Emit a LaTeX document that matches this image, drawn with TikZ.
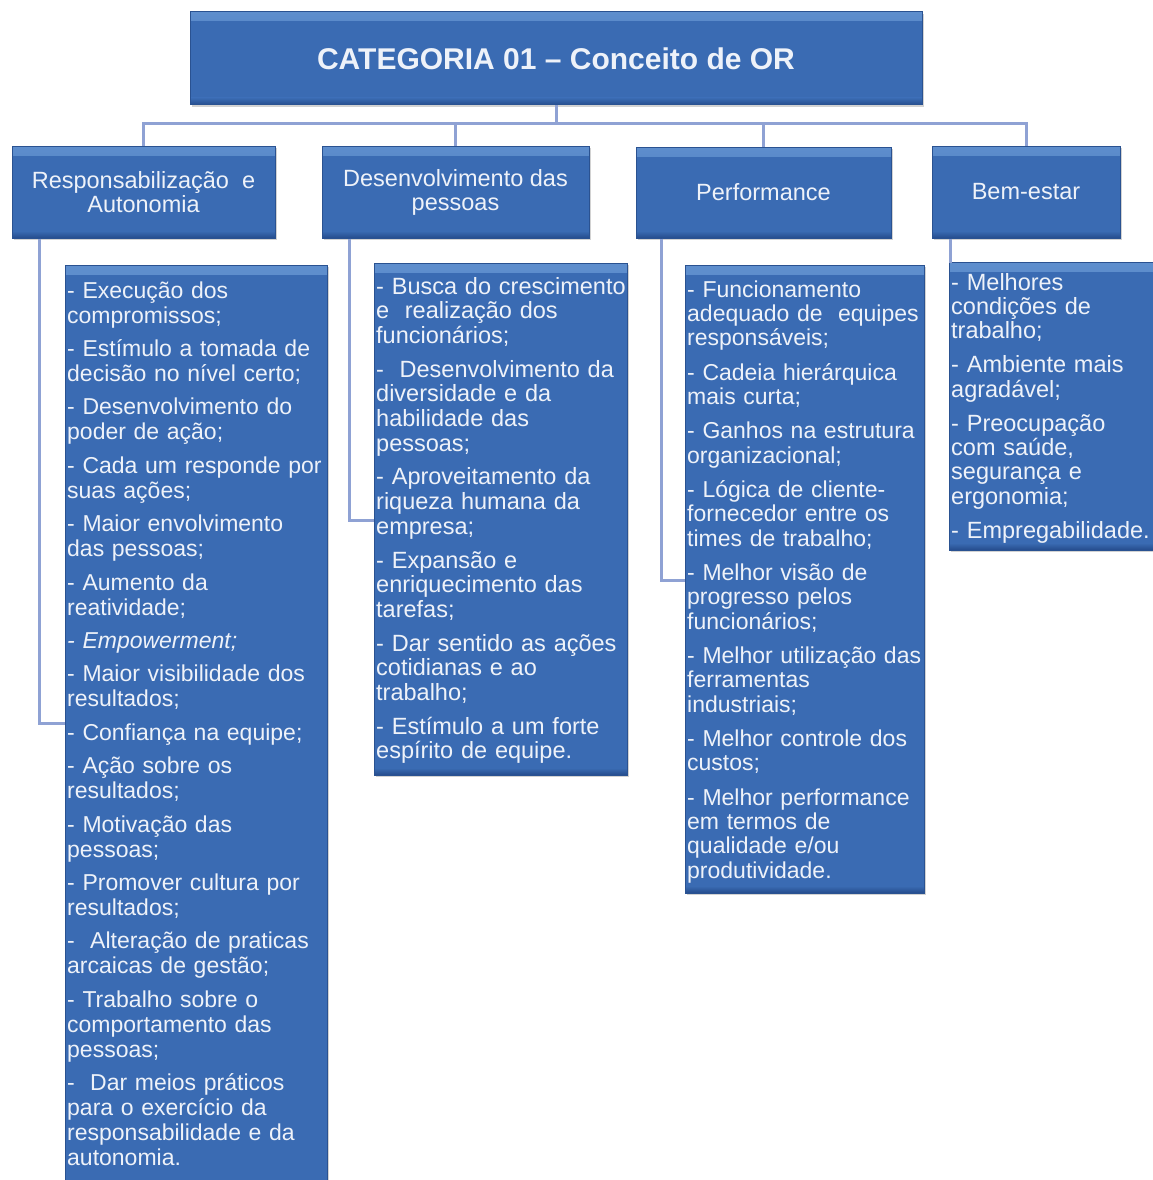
\documentclass[tikz,border=0pt]{standalone}
\usepackage{fontspec}
\setmainfont{Liberation Sans}
\usetikzlibrary{shadows}
\definecolor{boxtop}{HTML}{5E8ECD}
\definecolor{boxmid}{HTML}{3A6BB3}
\definecolor{boxbot}{HTML}{254C8C}
\definecolor{boxline}{HTML}{2A5291}
\definecolor{conncol}{HTML}{8FA2D4}
\definecolor{txtcol}{HTML}{EEF2F9}
\tikzset{
  bluebox/.style={rectangle, draw=boxline, line width=1pt, fill=boxmid,
    drop shadow={opacity=0.35, shadow xshift=2pt, shadow yshift=-2pt},
    path picture={
      \shade[top color=boxtop, bottom color=boxmid]
        (path picture bounding box.north west) rectangle
        ([yshift=-9pt]path picture bounding box.north east);
      \shade[top color=boxmid, bottom color=boxbot]
        ([yshift=7pt]path picture bounding box.south west) rectangle
        (path picture bounding box.south east);
    },
    inner sep=0pt, text=txtcol},
  header/.style={bluebox, font=\fontsize{30}{34}\selectfont\bfseries},
  catbox/.style={bluebox, align=center, font=\fontsize{23.5}{24}\selectfont},
  listbox/.style={bluebox},
  listtext/.style={anchor=base west, inner sep=0pt, text=txtcol, text width=320pt, align=left},
  conn/.style={draw=conncol, line width=3pt}
}
\begin{document}
\begin{tikzpicture}[x=1pt,y=-1pt]
\useasboundingbox (0,0) rectangle (1152,1180);
\fill[white] (0,0) rectangle (1152,1180);

% header
\node[header, minimum width=732pt, minimum height=93pt] (top) at (556,58.5) {CATEGORIA 01 -- Conceito de OR};

% categories
\node[catbox, minimum width=263pt, minimum height=92pt] (resp) at (143.5,192) {Responsabilização~ e\\Autonomia};
\node[catbox, minimum width=267pt, minimum height=92pt] (desen) at (455.5,192) {Desenvolvimento das\\pessoas};
\node[catbox, minimum width=255pt, minimum height=91pt] (perf) at (763.5,192.5) {Performance};
\node[catbox, minimum width=188pt, minimum height=92pt] (bem) at (1026,192) {Bem-estar};

% list boxes
\node[listbox, minimum width=262pt, minimum height=925pt] (respL) at (196,727.5) {};
\node[listbox, minimum width=253pt, minimum height=512pt] (desenL) at (500.5,519) {};
\node[listbox, minimum width=239pt, minimum height=628pt] (perfL) at (804.5,579) {};
\node[listbox, minimum width=207pt, minimum height=288pt] (bemL) at (1052.5,406) {};

% list texts
\node[listtext, font=\fontsize{23}{25}\selectfont] (respT) at (67,298) {%
- Execução dos\\compromissos;\\[8.4pt]
- Estímulo a tomada de\\decisão no nível certo;\\[8.4pt]
- Desenvolvimento do\\poder de ação;\\[8.4pt]
- Cada um responde por\\suas ações;\\[8.4pt]
- Maior envolvimento\\das pessoas;\\[8.4pt]
- Aumento da\\reatividade;\\[8.4pt]
\textit{- Empowerment;}\\[8.4pt]
- Maior visibilidade dos\\resultados;\\[8.4pt]
- Confiança na equipe;\\[8.4pt]
- Ação sobre os\\resultados;\\[8.4pt]
- Motivação das\\pessoas;\\[8.4pt]
- Promover cultura por\\resultados;\\[8.4pt]
-~ Alteração de praticas\\arcaicas de gestão;\\[8.4pt]
- Trabalho sobre o\\comportamento das\\pessoas;\\[8.4pt]
-~ Dar meios práticos\\para o exercício da\\responsabilidade e da\\autonomia.};

\node[listtext, font=\fontsize{23.5}{24.7}\selectfont] (desenT) at (376,294) {%
- Busca do crescimento\\e~ realização dos\\funcionários;\\[9pt]
-~ Desenvolvimento da\\diversidade e da\\habilidade das\\pessoas;\\[9pt]
- Aproveitamento da\\riqueza humana da\\empresa;\\[9pt]
- Expansão e\\enriquecimento das\\tarefas;\\[9pt]
- Dar sentido as ações\\cotidianas e ao\\trabalho;\\[9pt]
- Estímulo a um forte\\espírito de equipe.};

\node[listtext, font=\fontsize{23}{24.3}\selectfont] (perfT) at (687,297) {%
- Funcionamento\\adequado de~ equipes\\responsáveis;\\[10.1pt]
- Cadeia hierárquica\\mais curta;\\[10.1pt]
- Ganhos na estrutura\\organizacional;\\[10.1pt]
- Lógica de cliente-\\fornecedor entre os\\times de trabalho;\\[10.1pt]
- Melhor visão de\\progresso pelos\\funcionários;\\[10.1pt]
- Melhor utilização das\\ferramentas\\industriais;\\[10.1pt]
- Melhor controle dos\\custos;\\[10.1pt]
- Melhor performance\\em termos de\\qualidade e/ou\\produtividade.};

\node[listtext, font=\fontsize{23.5}{24.3}\selectfont] (bemT) at (951,290) {%
- Melhores\\condições de\\trabalho;\\[9.8pt]
- Ambiente mais\\agradável;\\[9.8pt]
- Preocupação\\com saúde,\\segurança e\\ergonomia;\\[9.8pt]
- Empregabilidade.};

% connectors
\coordinate (bus) at (0,124);
\coordinate (rj) at (0,723);
\coordinate (dj) at (0,520);
\coordinate (pj) at (0,580);
\draw[conn] (top.south) -- (top.south |- bus);
\draw[conn] (resp.north) -- (resp.north |- bus) -- (bem.north |- bus) -- (bem.north);
\draw[conn] (desen.north) -- (desen.north |- bus);
\draw[conn] (perf.north) -- (perf.north |- bus);
\draw[conn] (resp.south west) ++(28,0) |- (respL.west |- rj);
\draw[conn] (desen.south west) ++(28,0) |- (desenL.west |- dj);
\draw[conn] (perf.south west) ++(26,0) |- (perfL.west |- pj);
\draw[conn] (bem.south west) ++(19,0) -- ++(0,24);
\end{tikzpicture}
\end{document}
